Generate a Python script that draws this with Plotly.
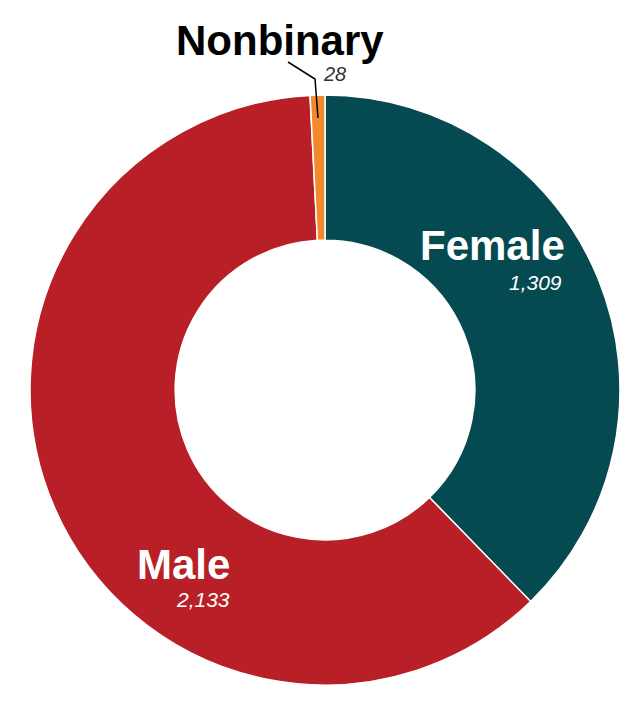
import plotly.graph_objects as go

labels = ["Female", "Male", "Nonbinary"]
values = [1309, 2133, 28]
colors = ["#064a51", "#b81f27", "#f08a2c"]

W, H = 640, 718
OFF = 8  # page body margin offset

def px(x):
    return (x - OFF) / W

def py(y):
    return 1 - (y - OFF) / H

fig = go.Figure(go.Pie(
    labels=labels,
    values=values,
    sort=False,
    direction="clockwise",
    rotation=0,
    hole=0.508,
    textinfo="none",
    hoverinfo="label+value",
    marker=dict(colors=colors, line=dict(color="white", width=1.5)),
    domain=dict(x=[px(30), px(620)], y=[py(685), py(95)]),
    showlegend=False,
))

font_family = "Liberation Sans, Arial, sans-serif"
ann = []
# Female
ann.append(dict(x=px(492), y=py(245), text="<b>Female</b>", showarrow=False,
                xanchor="center", yanchor="middle", borderpad=0,
                font=dict(family=font_family, size=42, color="white")))
ann.append(dict(x=px(563), y=py(282), text="<i>1,309</i>", showarrow=False,
                xanchor="right", yanchor="middle", borderpad=0,
                font=dict(family=font_family, size=21, color="white")))
# Male
ann.append(dict(x=px(183), y=py(564), text="<b>Male</b>", showarrow=False,
                xanchor="center", yanchor="middle", borderpad=0,
                font=dict(family=font_family, size=42, color="white")))
ann.append(dict(x=px(231), y=py(599), text="<i>2,133</i>", showarrow=False,
                xanchor="right", yanchor="middle", borderpad=0,
                font=dict(family=font_family, size=21, color="white")))
# Nonbinary
ann.append(dict(x=px(280), y=py(41), text="<b>Nonbinary</b>", showarrow=False,
                xanchor="center", yanchor="middle", borderpad=0,
                font=dict(family=font_family, size=42, color="black")))
ann.append(dict(x=px(322), y=py(74), text="<i>28</i>", showarrow=False,
                xanchor="left", yanchor="middle", borderpad=0,
                font=dict(family=font_family, size=20, color="#333333")))

fig.update_layout(
    width=W, height=H,
    margin=dict(l=0, r=0, t=0, b=0),
    paper_bgcolor="white",
    plot_bgcolor="white",
    annotations=ann,
    shapes=[dict(type="path", xref="paper", yref="paper",
                 path=f"M {px(288)} {py(62)} L {px(315)} {py(79)} L {px(318)} {py(118)}",
                 line=dict(color="black", width=1.5))],
)

fig.write_html("out.html")
